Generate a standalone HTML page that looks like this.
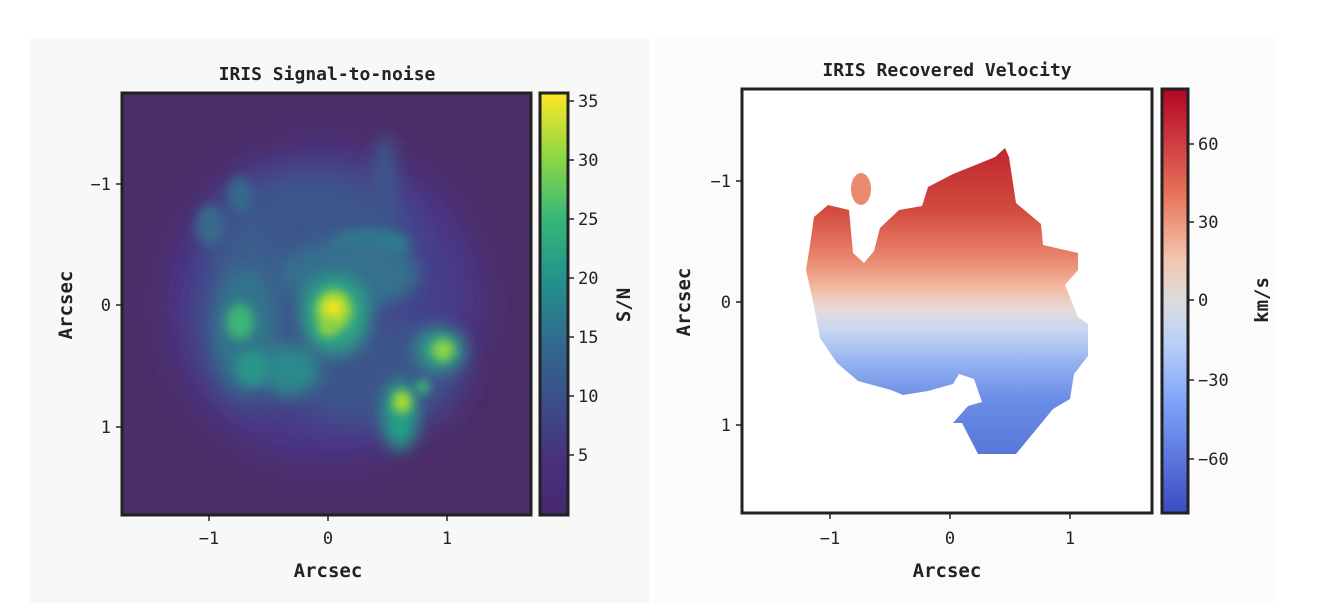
<!DOCTYPE html>
<html><head><meta charset="utf-8"><style>
html,body{margin:0;padding:0;background:#fff;width:1318px;height:615px;overflow:hidden}
svg text{font-family:"DejaVu Sans Mono","Liberation Mono",monospace;fill:#222}
</style></head><body>
<svg width="1318" height="615" viewBox="0 0 1318 615" xmlns="http://www.w3.org/2000/svg">
<defs>
<filter id="b1" x="-50%" y="-50%" width="200%" height="200%"><feGaussianBlur stdDeviation="16"/></filter>
<filter id="b2" x="-50%" y="-50%" width="200%" height="200%"><feGaussianBlur stdDeviation="8"/></filter>
<filter id="b3" x="-50%" y="-50%" width="200%" height="200%"><feGaussianBlur stdDeviation="5"/></filter>
<clipPath id="c1"><rect x="122" y="93" width="409" height="422"/></clipPath>
<linearGradient id="vir" x1="0" y1="1" x2="0" y2="0">
<stop offset="0" stop-color="#46286e"/><stop offset="0.12" stop-color="#482f7c"/><stop offset="0.25" stop-color="#3e4a89"/>
<stop offset="0.4" stop-color="#31688e"/><stop offset="0.55" stop-color="#22908c"/><stop offset="0.7" stop-color="#35b779"/>
<stop offset="0.85" stop-color="#8fd744"/><stop offset="1" stop-color="#fde725"/></linearGradient>
<linearGradient id="cw" x1="0" y1="0" x2="0" y2="1">
<stop offset="0" stop-color="#b40426"/><stop offset="0.25" stop-color="#e7745b"/><stop offset="0.4" stop-color="#f4c5ad"/>
<stop offset="0.5" stop-color="#dddcdc"/><stop offset="0.6" stop-color="#b9d0f9"/><stop offset="0.75" stop-color="#7b9ff9"/><stop offset="1" stop-color="#3b4cc0"/></linearGradient>
<linearGradient id="vel" gradientUnits="userSpaceOnUse" x1="0" y1="150" x2="0" y2="455">
<stop offset="0" stop-color="#c0282d"/><stop offset="0.2" stop-color="#d24b40"/><stop offset="0.35" stop-color="#e9836a"/>
<stop offset="0.45" stop-color="#f2b9a0"/><stop offset="0.52" stop-color="#e6dad6"/><stop offset="0.58" stop-color="#cdd9ef"/>
<stop offset="0.7" stop-color="#93b0f0"/><stop offset="0.82" stop-color="#6a8de6"/><stop offset="1" stop-color="#5876d8"/></linearGradient>
</defs>
<rect x="30" y="38" width="620" height="565" fill="#f8f8f8"/>
<rect x="655" y="38" width="620" height="565" fill="#fbfbfb"/>

<!-- Left heatmap -->
<g clip-path="url(#c1)">
<rect x="122" y="93" width="409" height="422" fill="#4b2d68"/>
<ellipse cx="325" cy="305" rx="160" ry="160" fill="#4b3585" filter="url(#b1)"/>
<ellipse cx="325" cy="300" rx="130" ry="125" fill="#45418b" filter="url(#b1)"/>
<ellipse cx="310" cy="235" rx="100" ry="65" fill="#3c578c" filter="url(#b1)"/>
<ellipse cx="370" cy="370" rx="90" ry="55" fill="#3d558b" filter="url(#b1)"/>
<ellipse cx="250" cy="320" rx="45" ry="85" fill="#3a618d" filter="url(#b1)"/>
<ellipse cx="245" cy="330" rx="30" ry="60" fill="#33758c" filter="url(#b2)"/>
<ellipse cx="385" cy="175" rx="12" ry="40" fill="#3e568b" filter="url(#b2)"/>
<ellipse cx="240" cy="195" rx="12" ry="18" fill="#36698c" filter="url(#b3)"/>
<ellipse cx="210" cy="225" rx="14" ry="20" fill="#376a8c" filter="url(#b3)"/>
<ellipse cx="370" cy="245" rx="40" ry="16" fill="#2f7b8d" filter="url(#b3)"/>
<ellipse cx="350" cy="275" rx="70" ry="35" fill="#34708d" filter="url(#b2)"/>
<ellipse cx="290" cy="370" rx="30" ry="25" fill="#2a8a8b" filter="url(#b2)"/>
<ellipse cx="252" cy="368" rx="16" ry="18" fill="#2a948a" filter="url(#b3)"/>
<ellipse cx="240" cy="322" rx="14" ry="18" fill="#3cb576" filter="url(#b3)"/>
<ellipse cx="335" cy="315" rx="35" ry="40" fill="#2ba385" filter="url(#b2)"/>
<ellipse cx="334" cy="310" rx="18" ry="20" fill="#9ad93e" filter="url(#b3)"/>
<ellipse cx="333" cy="308" rx="9" ry="9" fill="#f6e41f" filter="url(#b3)"/>
<ellipse cx="328" cy="328" rx="10" ry="8" fill="#8fd344" filter="url(#b3)"/>
<ellipse cx="440" cy="350" rx="25" ry="22" fill="#2a9a87" filter="url(#b2)"/>
<ellipse cx="443" cy="350" rx="11" ry="11" fill="#8fd544" filter="url(#b3)"/>
<ellipse cx="400" cy="415" rx="18" ry="35" fill="#24a086" filter="url(#b2)"/>
<ellipse cx="402" cy="402" rx="9" ry="11" fill="#b4de2c" filter="url(#b3)"/>
<ellipse cx="423" cy="387" rx="7" ry="7" fill="#3dbb74" filter="url(#b3)"/>
</g>
<rect x="122" y="93" width="409" height="422" fill="none" stroke="#222" stroke-width="3"/>
<rect x="540" y="93" width="28" height="422" fill="url(#vir)" stroke="#222" stroke-width="3"/>

<g stroke="#222" stroke-width="1.5">
<line x1="209" y1="515" x2="209" y2="521"/><line x1="328" y1="515" x2="328" y2="521"/><line x1="447" y1="515" x2="447" y2="521"/>
<line x1="116" y1="184" x2="122" y2="184"/><line x1="116" y1="305" x2="122" y2="305"/><line x1="116" y1="427" x2="122" y2="427"/>
<line x1="568" y1="101" x2="574" y2="101"/><line x1="568" y1="160" x2="574" y2="160"/><line x1="568" y1="219" x2="574" y2="219"/><line x1="568" y1="278" x2="574" y2="278"/><line x1="568" y1="337" x2="574" y2="337"/><line x1="568" y1="396" x2="574" y2="396"/><line x1="568" y1="455" x2="574" y2="455"/>
</g>
<g font-size="17">
<text x="209" y="544" text-anchor="middle">−1</text><text x="328" y="544" text-anchor="middle">0</text><text x="447" y="544" text-anchor="middle">1</text>
<text x="111" y="190" text-anchor="end">−1</text><text x="111" y="311" text-anchor="end">0</text><text x="111" y="433" text-anchor="end">1</text>
<text x="578" y="107">35</text><text x="578" y="166">30</text><text x="578" y="225">25</text><text x="578" y="284">20</text><text x="578" y="343">15</text><text x="578" y="402">10</text><text x="578" y="461">5</text>
</g>
<text x="327" y="80" font-size="18" font-weight="bold" text-anchor="middle">IRIS Signal-to-noise</text>
<text x="328" y="577" font-size="19" font-weight="bold" text-anchor="middle">Arcsec</text>
<text transform="translate(72,305) rotate(-90)" font-size="19" font-weight="bold" text-anchor="middle">Arcsec</text>
<text transform="translate(630,305) rotate(-90)" font-size="19" font-weight="bold" text-anchor="middle">S/N</text>

<!-- Right velocity -->
<rect x="742" y="89" width="410" height="424" fill="#fff"/>
<polygon fill="url(#vel)" points="1005,148 1009,157 1016,203 1041,224 1043,245 1078,253 1078,270 1065,285 1078,317 1088,324 1088,356 1074,374 1070,399 1053,409 1016,454 978,454 962,423 953,423 968,406 982,402 974,379 959,374 953,384 928,391 903,395 891,390 858,381 837,363 820,338 814,306 806,270 810,245 814,217 828,205 849,210 853,253 864,263 874,251 880,228 899,210 922,206 928,187 953,174 978,164 995,157"/>
<ellipse cx="861" cy="189" rx="10" ry="16" fill="#ea8a6e"/>
<rect x="742" y="89" width="410" height="424" fill="none" stroke="#222" stroke-width="3"/>
<rect x="1162" y="89" width="26" height="424" fill="url(#cw)" stroke="#222" stroke-width="3"/>
<g stroke="#222" stroke-width="1.5">
<line x1="830" y1="513" x2="830" y2="519"/><line x1="950" y1="513" x2="950" y2="519"/><line x1="1070" y1="513" x2="1070" y2="519"/>
<line x1="736" y1="181" x2="742" y2="181"/><line x1="736" y1="302" x2="742" y2="302"/><line x1="736" y1="425" x2="742" y2="425"/>
<line x1="1188" y1="144" x2="1194" y2="144"/><line x1="1188" y1="222" x2="1194" y2="222"/><line x1="1188" y1="300" x2="1194" y2="300"/><line x1="1188" y1="380" x2="1194" y2="380"/><line x1="1188" y1="459" x2="1194" y2="459"/>
</g>
<g font-size="17">
<text x="830" y="544" text-anchor="middle">−1</text><text x="950" y="544" text-anchor="middle">0</text><text x="1070" y="544" text-anchor="middle">1</text>
<text x="731" y="187" text-anchor="end">−1</text><text x="731" y="308" text-anchor="end">0</text><text x="731" y="431" text-anchor="end">1</text>
<text x="1198" y="150">60</text><text x="1198" y="228">30</text><text x="1198" y="306">0</text><text x="1198" y="386">−30</text><text x="1198" y="465">−60</text>
</g>
<text x="947" y="76" font-size="18" font-weight="bold" text-anchor="middle">IRIS Recovered Velocity</text>
<text x="947" y="577" font-size="19" font-weight="bold" text-anchor="middle">Arcsec</text>
<text transform="translate(690,302) rotate(-90)" font-size="19" font-weight="bold" text-anchor="middle">Arcsec</text>
<text transform="translate(1268,300) rotate(-90)" font-size="19" font-weight="bold" text-anchor="middle">km/s</text>
</svg>
</body></html>
